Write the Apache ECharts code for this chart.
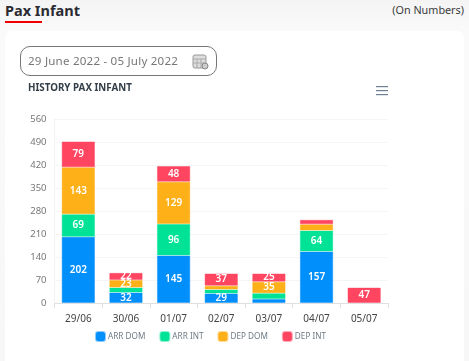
<!DOCTYPE html>
<html><head><meta charset="utf-8">
<script src="https://cdn.jsdelivr.net/npm/echarts@6/dist/echarts.min.js"></script>
<style>
html,body{margin:0;padding:0;width:469px;height:361px;overflow:hidden;font-family:"Noto Sans",sans-serif}
body{background:linear-gradient(#f4f4f4,#fafafa 30px,#f7f7f7)}
#h1{position:absolute;left:5px;top:-1px;font-size:14.5px;font-weight:700;color:#2b2b33;line-height:22px}
#ul{position:absolute;left:5px;top:20.5px;width:37px;height:2px;background:#f00000}
#on{position:absolute;right:5px;top:2px;font-size:10.8px;color:#3a3a3a;line-height:16px}
#card{position:absolute;left:5px;top:31px;width:459px;height:340px;background:#fff;border-radius:7px}
#dp{position:absolute;left:20px;top:46px;width:195px;height:28px;border:1px solid #777;border-radius:10px;font-size:11.6px;color:#777;line-height:28px;text-indent:7px;letter-spacing:.2px}
#ic{position:absolute;left:192px;top:54px}
#c{position:absolute;left:0;top:0;width:469px;height:361px}
</style></head><body>
<div id="h1">Pax Infant</div><div id="ul"></div><div id="on">(On Numbers)</div>
<div id="card"></div>
<div id="c"></div>
<div id="dp">29 June 2022 - 05 July 2022</div>
<svg id="ic" width="17" height="16" viewBox="0 0 17 16"><rect x="1" y="1" width="13" height="13" rx="2" fill="#ddd" stroke="#999"/><path d="M1 5H14M5 5V14M9 5V14M1 9H14" stroke="#aaa" fill="none"/><circle cx="13" cy="12" r="3" fill="#ccc" stroke="#888"/></svg>
<script>
const categories=['29/06','30/06','01/07','02/07','03/07','04/07','05/07'];
const arrDom=[202,32,145,29,12,157,0];
const arrInt=[69,15,96,12,18,64,0];
const depDom=[143,23,129,12,35,19,0];
const depInt=[79,22,48,37,25,14,47];
const seriesNames=['ARR DOM','ARR INT','DEP DOM','DEP INT'];
const colors=['#008ffb','#00e396','#feb019','#ff4560'];
const borders=['rgba(0,143,251,.45)','rgba(0,227,150,.45)','rgba(254,176,25,.45)','rgba(255,69,96,.45)'];
const yTicks=[0,70,140,210,280,350,420,490,560];
const hidden=[[4],[1,3,4],[3,5],[5]];
const font='"Noto Sans",sans-serif';
const vals=[arrDom,arrInt,depDom,depInt];
const chart=echarts.init(document.getElementById('c'),null,{renderer:'canvas'});
chart.setOption({
 animation:false,
 grid:{left:54.5,right:81,top:119.5,bottom:58},
 title:{text:'HISTORY PAX INFANT',left:28,top:83.5,padding:0,textStyle:{fontFamily:font,fontSize:9.8,fontWeight:700,color:'#333e48'}},
 legend:{top:331,left:95,itemWidth:9,itemHeight:9,itemGap:14,icon:'roundRect',data:seriesNames,
  textStyle:{fontFamily:font,fontSize:8.2,color:'#6e7a85',padding:[0,0,0,-2]},padding:0},
 graphic:[{type:'group',left:376,top:86,children:[0,4,8].map(y=>({type:'rect',shape:{x:0,y:y,width:12,height:1.2},style:{fill:'#6e8192'}}))}],
 xAxis:{type:'category',data:categories,axisTick:{show:true,length:5,lineStyle:{color:'#e0e0e0'}},axisLine:{lineStyle:{color:'#e0e0e0'}},
  axisLabel:{fontFamily:font,fontSize:10,color:'#444',margin:11}},
 yAxis:{type:'value',min:0,max:560,interval:70,axisLine:{show:true,lineStyle:{color:'#f2f2f2'}},splitLine:{lineStyle:{color:'#f5f5f5'}},
  axisLabel:{fontFamily:font,fontSize:9.5,color:'#777',margin:8,padding:[0,0,3,0],formatter:v=>yTicks.includes(v)?String(v):''}},
 series:seriesNames.map((n,i)=>({name:n,type:'bar',stack:'t',barWidth:'70%',data:vals[i].map(v=>v===0?null:v),
  itemStyle:{color:colors[i],borderColor:borders[i],borderWidth:1,opacity:1},
  label:{show:true,position:'inside',fontFamily:font,fontSize:10,fontWeight:600,color:'#fff',
   formatter:p=>hidden[i].includes(p.dataIndex)?'':String(p.value)}}))
});
</script></body></html>
